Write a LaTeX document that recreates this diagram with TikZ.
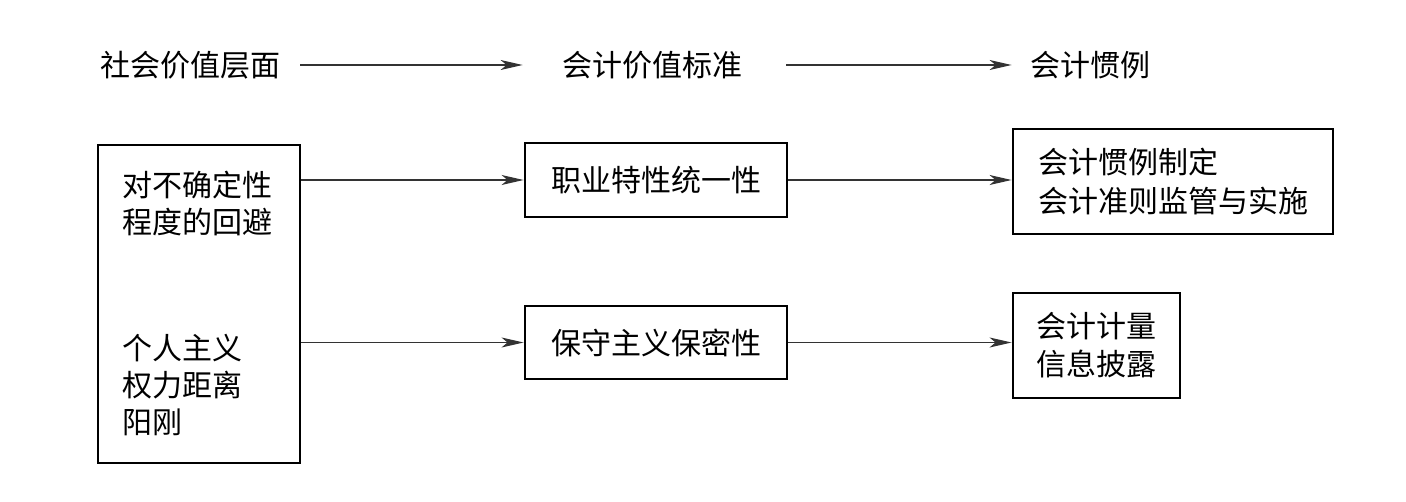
\documentclass[tikz,border=0pt]{standalone}
\usepackage{fontspec}
\setmainfont{Noto Sans CJK SC}
\usetikzlibrary{arrows.meta}
\begin{document}
\begin{tikzpicture}[x=0.5pt,y=-0.5pt,
  every node/.style={font=\fontsize{15pt}{18.5pt}\selectfont, inner sep=0pt},
  box/.style={draw, line width=1.45pt, inner sep=0pt},
  conn/.style={draw=black!80, line width=0.6pt, -{Stealth[length=11pt,width=5pt,inset=3pt]}}]
\useasboundingbox (0,0) rectangle (1406,502);
% header
\node (h1) at (190,65) {社会价值层面};
\node (h2) at (652,65) {会计价值标准};
\node (h3) at (1090,65) {会计惯例};
\draw[conn, shorten <=10pt, shorten >=19.5pt] (h1.east) -- (h2.west);
\draw[conn, shorten <=22pt, shorten >=9pt] (h2.east) -- (h3.west);
% left box
\node[box, minimum width=101pt, minimum height=159pt] (L) at (199,304) {};
\node[align=left, anchor=west] (t1) at (122,203.5) {对不确定性\\程度的回避};
\node[align=left, anchor=west] (t2) at (122,385.5) {个人主义\\权力距离\\阳刚};
% middle boxes
\node[box, minimum width=131pt, minimum height=37pt] (m1) at (656,180) {职业特性统一性};
\node[box, minimum width=131pt, minimum height=36.5pt] (m2) at (656,342.5) {保守主义保密性};
% right boxes
\node[box, minimum width=160pt, minimum height=52.5pt, align=left,
      font=\fontsize{15pt}{19.5pt}\selectfont] (r1) at (1173,181.5) {会计惯例制定\\会计准则监管与实施};
\node[box, minimum width=83.5pt, minimum height=52.5pt, align=left,
      font=\fontsize{15pt}{19pt}\selectfont] (r2) at (1096.5,345.5) {会计计量\\信息披露};
% connectors
\draw[conn] (L.east |- m1.west) -- (m1.west);
\draw[conn] (L.east |- m2.west) -- (m2.west);
\draw[conn] (m1.east) -- (r1.west |- m1.east);
\draw[conn] (m2.east) -- (r2.west |- m2.east);
\end{tikzpicture}
\end{document}
